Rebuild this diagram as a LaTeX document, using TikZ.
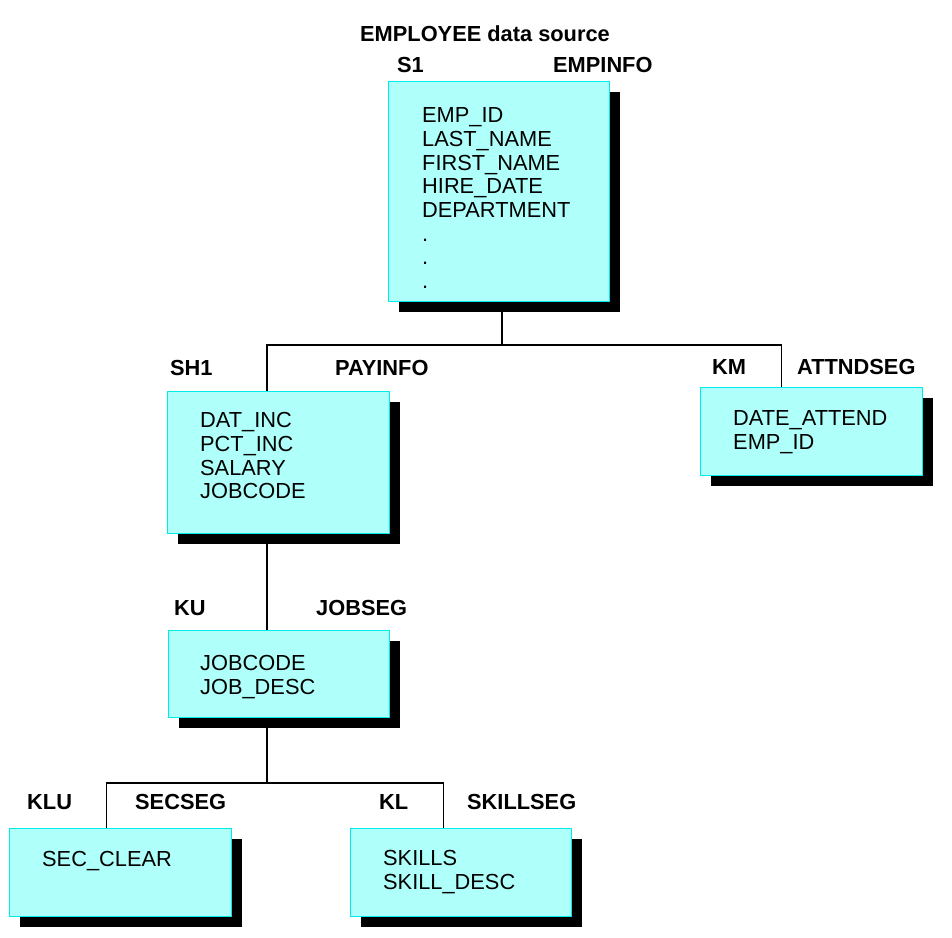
\documentclass[tikz,border=0pt]{standalone}
\usepackage{fontspec}
\setmainfont{Liberation Sans}
\usetikzlibrary{shadows,backgrounds}
\definecolor{boxfill}{RGB}{175,255,250}
\definecolor{boxline}{RGB}{0,235,235}
\begin{document}
\begin{tikzpicture}[x=1pt,y=-1pt,
  font=\fontsize{21.8}{23.7}\selectfont,
  segbox/.style={draw=boxline, line width=1pt, fill=boxfill, anchor=north west, inner sep=0pt,
    general shadow={fill=black, shadow xshift=10pt, shadow yshift=-10pt}},
  fields/.style={anchor=base west, inner sep=0pt, text width=185pt, align=left},
  lbl/.style={anchor=base west, inner sep=0pt, font=\fontsize{21.8}{24}\selectfont\bfseries},
  conn/.style={draw=black, line width=1.3pt}]
\useasboundingbox (0,0) rectangle (952,937);

% segment boxes
\node[segbox, minimum width=221pt, minimum height=220pt] (b1) at (388,81) {};
\node[segbox, minimum width=222pt, minimum height=142pt] (b2) at (167,391) {};
\node[segbox, minimum width=222pt, minimum height=88pt]  (b3) at (700,387) {};
\node[segbox, minimum width=221pt, minimum height=87pt]  (b4) at (168,630) {};
\node[segbox, minimum width=222pt, minimum height=88pt]  (b5) at (9,828) {};
\node[segbox, minimum width=221pt, minimum height=88pt]  (b6) at (350,828) {};

% field lists
\node[fields] (t1) at (422,122.7) {EMP\_ID\\LAST\_NAME\\FIRST\_NAME\\HIRE\_DATE\\DEPARTMENT\\.\\.\\.};
\node[fields] (t2) at (200,427.7) {DAT\_INC\\PCT\_INC\\SALARY\\JOBCODE};
\node[fields] (t3) at (733,425.7) {DATE\_ATTEND\\EMP\_ID};
\node[fields] (t4) at (200,670.7) {JOBCODE\\JOB\_DESC};
\node[fields] (t5) at (42,866.7) {SEC\_CLEAR};
\node[fields] (t6) at (383,865.7) {SKILLS\\SKILL\_DESC};

% labels
\node[lbl] (title) at (360,41.5) {EMPLOYEE data source};
\node[lbl] (l1a) at (397,72.7) {S1};
\node[lbl] (l1b) at (553,72.7) {EMPINFO};
\node[lbl] (l2a) at (170,375.7) {SH1};
\node[lbl] (l2b) at (335,375.7) {PAYINFO};
\node[lbl] (l3a) at (712,374.7) {KM};
\node[lbl] (l3b) at (797,374.7) {ATTNDSEG};
\node[lbl] (l4a) at (174,615.7) {KU};
\node[lbl] (l4b) at (316,615.7) {JOBSEG};
\node[lbl] (l5a) at (27,809.7) {KLU};
\node[lbl] (l5b) at (135,809.7) {SECSEG};
\node[lbl] (l6a) at (379,809.7) {KL};
\node[lbl] (l6b) at (467,809.7) {SKILLSEG};

% connectors
\begin{scope}[on background layer]
  \fill[white] (0,0) rectangle (952,937);
  \coordinate (j1) at (502,345);
  \coordinate (j2) at (267,783);
  \draw[conn] (b1.south -| j1) -- (j1);
  \draw[conn] (b2.north -| j2) |- (j1) -| ([xshift=-30pt]b3.north);
  \draw[conn] (b2.south -| j2) -- (b4.north -| j2);
  \draw[conn] (b4.south -| j2) -- (j2);
  \draw[conn] ([xshift=-14pt]b5.north) |- (j2) -| ([xshift=-17.5pt]b6.north);
\end{scope}
\end{tikzpicture}
\end{document}
